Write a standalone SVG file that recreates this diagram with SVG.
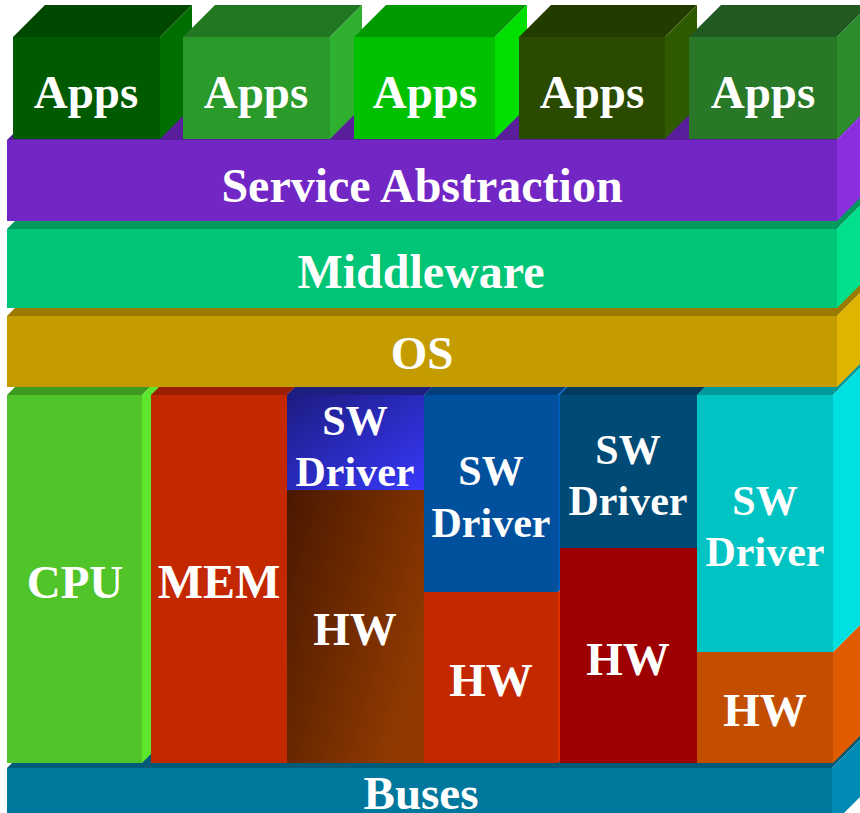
<svg xmlns="http://www.w3.org/2000/svg" width="860" height="813" viewBox="0 0 860 813">
  <defs>
    <linearGradient id="gSW3" x1="0" y1="0" x2="1" y2="1">
      <stop offset="0" stop-color="#1c1c82"/>
      <stop offset="1" stop-color="#3838fa"/>
    </linearGradient>
    <linearGradient id="gHW3" x1="0" y1="0" x2="1" y2="0.6">
      <stop offset="0" stop-color="#4a1800"/>
      <stop offset="1" stop-color="#903a00"/>
    </linearGradient>
  </defs>
  <style>
    text { font-family: "Liberation Serif", "Times New Roman", serif; font-weight: bold; font-size: 48px; fill: #ffffff; text-anchor: middle; }
    text.app { font-size: 47px; }
    text.drv { font-size: 42px; }
  </style>
  <rect x="0" y="0" width="860" height="813" fill="#ffffff"/>

  <!-- Buses -->
  <g id="buses">
    <polygon points="7,768 39,736 864,736 832,768" fill="#005a78"/>
    <polygon points="832,768 864,736 864,793 832,825" fill="#008ab4"/>
    <rect x="7" y="768" width="825" height="57" fill="#00779c"/>
    <text x="421" y="809" style="font-size:47px">Buses</text>
  </g>

  <!-- Hardware row -->
  <g id="cpu">
    <polygon points="7,395 39,363 174,363 142,395" fill="#3e9a20"/>
    <polygon points="142,395 174,363 174,731 142,763" fill="#5ce62e"/>
    <rect x="7" y="395" width="135" height="368" fill="#50c428"/>
    <text x="75" y="598" style="font-size:47px">CPU</text>
  </g>
  <g id="mem">
    <polygon points="151,395 183,363 319,363 287,395" fill="#9a2000"/>
    <polygon points="287,395 319,363 319,731 287,763" fill="#e03000"/>
    <rect x="151" y="395" width="136" height="368" fill="#c42800"/>
    <text x="219" y="598">MEM</text>
  </g>
  <g id="hw3">
    <polygon points="424,490 456,458 456,731 424,763" fill="#a04000"/>
    <rect x="287" y="490" width="137" height="273" fill="url(#gHW3)"/>
    <text x="355" y="645" style="font-size:47px">HW</text>
  </g>
  <g id="sw3">
    <polygon points="287,395 319,363 456,363 424,395" fill="#1e1e80"/>
    <polygon points="424,395 456,363 456,458 424,490" fill="#4040ff"/>
    <rect x="287" y="395" width="137" height="95" fill="url(#gSW3)"/>
    <text class="drv" x="355" y="435">SW</text>
    <text class="drv" x="355" y="486">Driver</text>
  </g>
  <g id="hw4">
    <polygon points="558,592 590,560 590,731 558,763" fill="#e03000"/>
    <rect x="424" y="592" width="134" height="171" fill="#c42800"/>
    <text x="491" y="696" style="font-size:47px">HW</text>
  </g>
  <g id="sw4">
    <polygon points="424,395 456,363 590,363 558,395" fill="#003f7c"/>
    <polygon points="558,395 590,363 590,560 558,592" fill="#005cb8"/>
    <rect x="424" y="395" width="134" height="197" fill="#00509e"/>
    <text class="drv" x="491" y="485">SW</text>
    <text class="drv" x="491" y="537">Driver</text>
  </g>
  <g id="hw5">
    <polygon points="697,548 729,516 729,731 697,763" fill="#b80000"/>
    <rect x="560" y="548" width="137" height="215" fill="#9c0000"/>
    <text x="628" y="675" style="font-size:47px">HW</text>
  </g>
  <g id="sw5">
    <polygon points="560,395 592,363 729,363 697,395" fill="#003a5c"/>
    <polygon points="697,395 729,363 729,516 697,548" fill="#005a8c"/>
    <rect x="560" y="395" width="137" height="153" fill="#004a76"/>
    <text class="drv" x="628" y="464">SW</text>
    <text class="drv" x="628" y="515">Driver</text>
  </g>
  <g id="hw6">
    <polygon points="833,652 865,620 865,731 833,763" fill="#e05a00"/>
    <rect x="697" y="652" width="136" height="111" fill="#c44e00"/>
    <text x="765" y="726" style="font-size:47px">HW</text>
  </g>
  <g id="sw6">
    <polygon points="697,395 729,363 865,363 833,395" fill="#009a9a"/>
    <polygon points="833,395 865,363 865,620 833,652" fill="#00e0e0"/>
    <rect x="697" y="395" width="136" height="257" fill="#00c4c4"/>
    <text class="drv" x="765" y="515">SW</text>
    <text class="drv" x="765" y="566">Driver</text>
  </g>

  <!-- OS -->
  <g id="os">
    <polygon points="7,316 39,284 869,284 837,316" fill="#9a7a00"/>
    <polygon points="837,316 869,284 869,355 837,387" fill="#e0b400"/>
    <rect x="7" y="316" width="830" height="71" fill="#c49c00"/>
    <text x="422" y="369" style="font-size:47px">OS</text>
  </g>

  <!-- Middleware -->
  <g id="middleware">
    <polygon points="7,229 39,197 869,197 837,229" fill="#009a5c"/>
    <polygon points="837,229 869,197 869,276 837,308" fill="#00e08a"/>
    <rect x="7" y="229" width="830" height="79" fill="#00c476"/>
    <text x="421" y="288">Middleware</text>
  </g>

  <!-- Service Abstraction -->
  <g id="service-abstraction">
    <polygon points="7,140 39,108 869,108 837,140" fill="#5a1e9c"/>
    <polygon points="837,140 869,108 869,189 837,221" fill="#8a2ee0"/>
    <rect x="7" y="140" width="830" height="81" fill="#7226c4"/>
    <text x="422" y="202">Service Abstraction</text>
  </g>

  <!-- Apps -->
  <g id="apps1">
    <polygon points="13,37 45,5 192,5 160,37" fill="#004800"/>
    <polygon points="160,37 192,5 192,107 160,139" fill="#006e00"/>
    <rect x="13" y="37" width="147" height="102" fill="#005a00"/>
    <text class="app" x="86" y="108">Apps</text>
  </g>
  <g id="apps2">
    <polygon points="183,37 215,5 362,5 330,37" fill="#227822"/>
    <polygon points="330,37 362,5 362,107 330,139" fill="#30b030"/>
    <rect x="183" y="37" width="147" height="102" fill="#2a9a2a"/>
    <text class="app" x="256" y="108">Apps</text>
  </g>
  <g id="apps3">
    <polygon points="354,37 386,5 527,5 495,37" fill="#009a00"/>
    <polygon points="495,37 527,5 527,107 495,139" fill="#00e000"/>
    <rect x="354" y="37" width="141" height="102" fill="#00c000"/>
    <text class="app" x="425" y="108">Apps</text>
  </g>
  <g id="apps4">
    <polygon points="519,37 551,5 697,5 665,37" fill="#223c00"/>
    <polygon points="665,37 697,5 697,107 665,139" fill="#305a00"/>
    <rect x="519" y="37" width="146" height="102" fill="#2a4a00"/>
    <text class="app" x="592" y="108">Apps</text>
  </g>
  <g id="apps5">
    <polygon points="689,37 721,5 869,5 837,37" fill="#205a20"/>
    <polygon points="837,37 869,5 869,107 837,139" fill="#2c8c2c"/>
    <rect x="689" y="37" width="148" height="102" fill="#287828"/>
    <text class="app" x="763" y="108">Apps</text>
  </g>

  <g id="connectors"/>
</svg>
